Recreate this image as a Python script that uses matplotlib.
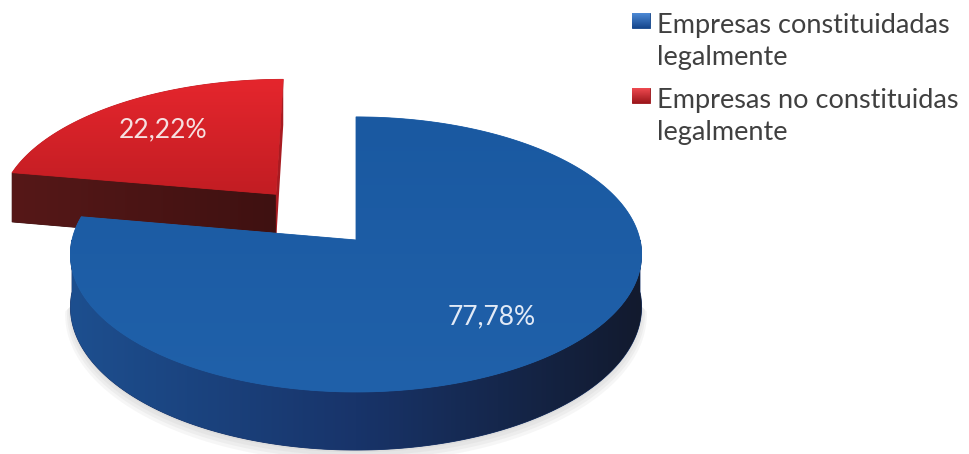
import numpy as np
import matplotlib
matplotlib.use("Agg")
import matplotlib.pyplot as plt
from matplotlib.patches import Polygon
from matplotlib.colors import to_rgb

# data
labels = ['Empresas constituidadas\nlegalmente', 'Empresas no constituidas\nlegalmente']
values = [77.78, 22.22]
pct_text = ['77,78%', '22,22%']
explode = [0.0, 0.455]

# styles: top face (far, near), rim / cut faces (left -> right)
top_cols = [['#1a59a1', '#2061aa'], ['#e5262d', '#c21d23']]
side_cols = [['#1d4f8f', '#18346a', '#121a2e'], ['#561818', '#3f1111']]
cut_cols = ['#14306a', '#a81b21']
pct_cols = ['#e2eaf6', '#f6e0e0']
legend_cols = [['#4d8ad6', '#15468c'], ['#ef4a50', '#9c161b']]

# pseudo-3d projection (pixel space)
CX, CY, RX, RY, K, H = 356, 240, 284, 136, 0.105, 52


def proj(X, Z, down=0.0):
    s = 1.0 / (1.0 - K * np.asarray(Z))
    return np.column_stack([CX + RX * np.asarray(X) * s,
                            CY + (RY * np.asarray(Z) + down) * s])


def ramp(cols, n=256):
    t = np.linspace(0, 1, n)
    stops = np.linspace(0, 1, len(cols))
    rgb = np.array([to_rgb(c) for c in cols])
    return np.column_stack([np.interp(t, stops, rgb[:, i]) for i in range(3)])


def grad_fill(ax, pts, cols, direction='x', z=1):
    pts = np.asarray(pts)
    poly = Polygon(pts, closed=True, facecolor=cols[len(cols) // 2],
                   edgecolor=cols[len(cols) // 2], lw=0.6, zorder=z)
    ax.add_patch(poly)
    x0, y0 = pts.min(axis=0)
    x1, y1 = pts.max(axis=0)
    c = ramp(cols)
    img = c[None, :, :] if direction == 'x' else c[:, None, :]
    im = ax.imshow(img, extent=(x0, x1, y1, y0), origin='upper',
                   aspect='auto', interpolation='bilinear', zorder=z)
    im.set_clip_path(poly)


def area2(p):
    x, y = p[:, 0], p[:, 1]
    return np.sum(x * np.roll(y, -1) - np.roll(x, -1) * y)


fig = plt.figure(figsize=(9.69, 4.54), dpi=100)
ax = fig.add_axes([0, 0, 1, 1])
ax.set_xlim(0, 969)
ax.set_ylim(454, 0)
ax.axis('off')

font = ['Lato', 'DejaVu Sans']

bounds = np.concatenate([[0], np.cumsum(values)]) / np.sum(values) * 360.0
slices = []
for i in range(len(values)):
    a0, a1 = bounds[i], bounds[i + 1]
    mid = np.radians((a0 + a1) / 2)
    ox, oz = explode[i] * np.sin(mid), -explode[i] * np.cos(mid)
    slices.append((i, a0, a1, mid, ox, oz))

# far slices first
slices.sort(key=lambda s: s[5])

# soft shadow under the front rim
th = np.radians(np.linspace(95, 265, 200))
for j, a in enumerate([0.05, 0.05, 0.05, 0.05]):
    sh = proj(np.sin(th) * (1.0 + 0.006 * j), -np.cos(th) * (1.0 + 0.01 * j), H + 2 + 1.5 * j)
    sh_top = proj(np.sin(th[::-1]) * 0.95, -np.cos(th[::-1]) * 0.95, H - 10)
    ax.add_patch(Polygon(np.vstack([sh, sh_top]), closed=True,
                         facecolor='#555555', edgecolor='none', alpha=a, zorder=0))

for order, (i, a0, a1, mid, ox, oz) in enumerate(slices):
    z = 2 + order * 5
    th = np.radians(np.linspace(a0, a1, 300))
    Xa, Za = ox + np.sin(th), oz - np.cos(th)
    vtop = proj([ox], [oz])[0]
    vbot = proj([ox], [oz], H)[0]

    # rim (front half only)
    lo, hi = max(a0, 90.0), min(a1, 270.0)
    if hi > lo:
        tr = np.radians(np.linspace(lo, hi, 300))
        Xr, Zr = ox + np.sin(tr), oz - np.cos(tr)
        rim = np.vstack([proj(Xr, Zr), proj(Xr, Zr, H)[::-1]])
        grad_fill(ax, rim, side_cols[i], 'x', z)

    # cut faces, kept only when facing the viewer
    for ang, sign in ((a0, -1), (a1, 1)):
        t = np.radians(ang)
        X, Z = ox + np.sin(t), oz - np.cos(t)
        face = np.array([vtop, proj([X], [Z])[0], proj([X], [Z], H)[0], vbot])
        if sign * area2(face) > 1.0:
            if sign < 0:
                grad_fill(ax, face, side_cols[i], 'x', z + 1)
            else:
                ax.add_patch(Polygon(face, closed=True, facecolor=cut_cols[i],
                                     edgecolor='none', zorder=z + 1))

    # top face
    top = np.vstack([vtop, proj(Xa, Za)])
    grad_fill(ax, top, top_cols[i], 'y', z + 2)

    # value label
    f = 0.7
    lx, ly = proj([ox + f * np.sin(mid)], [oz - f * np.cos(mid)])[0]
    ax.text(lx, ly, pct_text[i], color=pct_cols[i], fontsize=19,
            family=font, ha='center', va='center', zorder=z + 3)

# legend
for i, lab in enumerate(labels):
    y0 = 13 + 75 * i
    sq = np.array([[632, y0], [650, y0], [650, y0 + 15], [632, y0 + 15]])
    grad_fill(ax, sq, legend_cols[i], 'y', 20)
    for j, line in enumerate(lab.split('\n')):
        ax.text(657, 33 + 75 * i + 32 * j, line, color='#404040',
                fontsize=19.5, family=font, ha='left', va='baseline', zorder=21)

fig.savefig('out.png', dpi=100)
